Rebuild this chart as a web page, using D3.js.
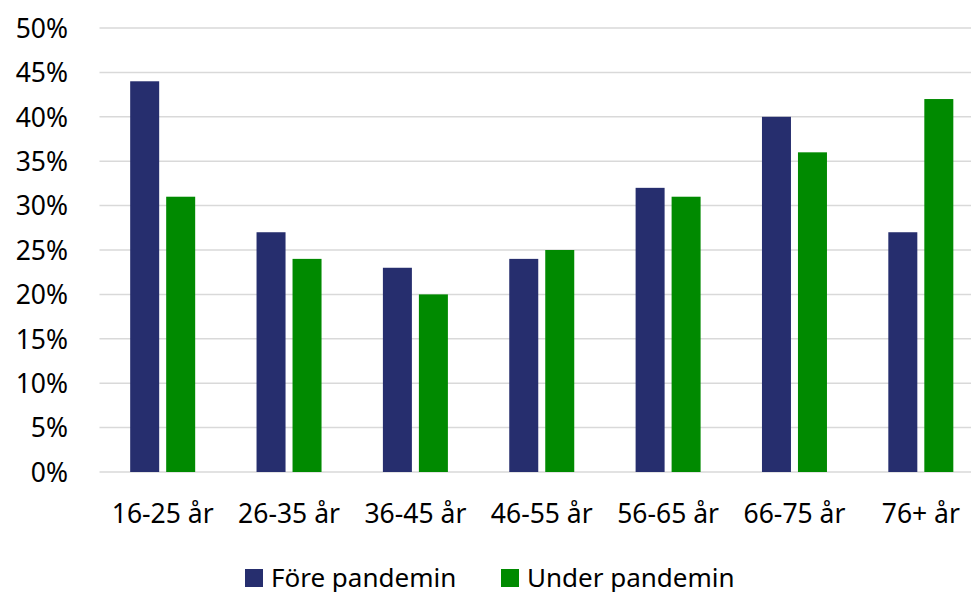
<!DOCTYPE html>
<html>
<head>
<meta charset="utf-8">
<script src="https://cdn.jsdelivr.net/npm/d3@7"></script>
<style>
  body { margin: 0; background: #fff; }
  svg text { font-family: "Noto Sans", sans-serif; fill: #000; }
</style>
</head>
<body>
<div class="main"></div>
<script>
// data
const categories = ["16-25 år", "26-35 år", "36-45 år", "46-55 år", "56-65 år", "66-75 år", "76+ år"];
const seriesNames = ["Före pandemin", "Under pandemin"];
const fore = [44, 27, 23, 24, 32, 40, 27];
const under = [31, 24, 20, 25, 31, 36, 42];
const yTicks = [0, 5, 10, 15, 20, 25, 30, 35, 40, 45, 50];
const colors = ["#262e6e", "#008a00"];

// setup
const width = 971, height = 592;
const plot = { left: 99.5, right: 984, top: 28, bottom: 472 };

const svg = d3.select('.main').append('svg')
    .attr("width", width)
    .attr("height", height);

const x = d3.scaleBand().domain(categories).range([plot.left, plot.right]);
const xs = d3.scaleBand().domain(seriesNames).range([-32.5, 32.5]).paddingInner(7 / 36);
const y = d3.scaleLinear().domain([0, 50]).range([plot.bottom, plot.top]);

// gridlines
svg.append("g").selectAll("line").data(yTicks).enter().append("line")
    .attr("x1", plot.left)
    .attr("x2", width)
    .attr("y1", d => y(d))
    .attr("y2", d => y(d))
    .attr("stroke", "#d9d9d9")
    .attr("stroke-width", 1.5);

// y labels
const yAxis = d3.axisLeft(y).tickValues(yTicks).tickFormat(d => d + "%").tickSize(0).tickPadding(0);
const yg = svg.append("g").attr("transform", "translate(68,0)").call(yAxis);
yg.select(".domain").remove();
yg.selectAll("text").style("font-size", "26.5px").attr("dy", "0.35em");

// bars
const rows = categories.map((c, i) => ({ cat: c, vals: [fore[i], under[i]] }));
const groups = svg.append("g").selectAll("g").data(rows).enter().append("g")
    .attr("transform", d => "translate(" + (x(d.cat) + x.bandwidth() / 2) + ",0)");

groups.selectAll("rect").data(d => d.vals.map((v, j) => ({ key: seriesNames[j], value: v, j: j })))
    .enter().append("rect")
    .attr("x", d => xs(d.key))
    .attr("width", xs.bandwidth())
    .attr("y", d => y(d.value))
    .attr("height", d => y(0) - y(d.value))
    .attr("fill", d => colors[d.j]);

// x labels
const xAxis = d3.axisBottom(x).tickSize(0).tickPadding(0);
const xg = svg.append("g").attr("transform", "translate(0,523)").call(xAxis);
xg.select(".domain").remove();
xg.selectAll("text").style("font-size", "26.5px").attr("dy", 0);

// legend
const legendX = [245, 501];
const legend = svg.append("g").selectAll("g").data(seriesNames).enter().append("g")
    .attr("transform", (d, i) => "translate(" + legendX[i] + ",569)");
legend.append("rect")
    .attr("width", 18)
    .attr("height", 18)
    .attr("fill", (d, i) => colors[i]);
legend.append("text")
    .attr("x", 26)
    .attr("y", 18)
    .style("font-size", "26px")
    .text(d => d);
</script>
</body>
</html>
